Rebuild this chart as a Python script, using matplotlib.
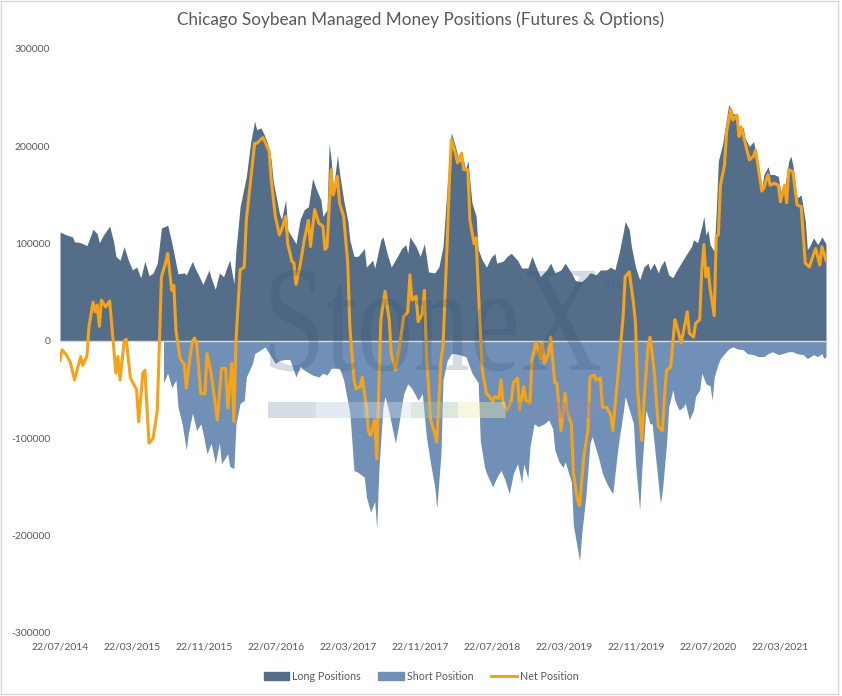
import numpy as np
import pandas as pd
import matplotlib
matplotlib.use("Agg")
import matplotlib.pyplot as plt
from matplotlib.patches import Rectangle, PathPatch
from matplotlib.lines import Line2D
from matplotlib.textpath import TextPath
from matplotlib.font_manager import FontProperties
from matplotlib.transforms import Affine2D, IdentityTransform
from matplotlib.ticker import FuncFormatter

plt.rcParams["font.family"] = ["Lato", "DejaVu Sans"]

# weekly COT data, x = weeks since 22/07/2014, values in contracts
start = pd.Timestamp("2014-07-22")
last_week = 370

long_weeks = [0, 3, 6, 7, 10, 13, 16, 18, 19, 21, 24, 26, 27, 29, 31, 33, 35, 37, 39, 41, 43, 45, 47, 49,
              52, 54, 57, 60, 61, 64, 65, 68, 69, 72, 73, 75, 77, 79, 81, 82, 84, 85, 87, 90, 92, 94, 95,
              97, 98, 100, 102, 103, 106, 107, 109, 110, 112, 114, 116, 118, 120, 122, 124, 126, 127, 129,
              130, 131, 132, 134, 135, 137, 139, 140, 142, 144, 147, 148, 151, 152, 155, 156, 158, 160, 163,
              165, 167, 168, 169, 172, 174, 176, 178, 181, 183, 185, 187, 189, 191, 193, 194, 196, 197, 199,
              201, 202, 204, 206, 208, 210, 211, 214, 216, 218, 221, 223, 226, 228, 230, 232, 235, 237, 239,
              242, 244, 247, 249, 252, 254, 256, 259, 261, 264, 266, 268, 270, 272, 273, 275, 276, 278, 280,
              282, 284, 285, 287, 289, 290, 292, 294, 296, 298, 300, 302, 305, 306, 308, 310, 311, 312, 313,
              314, 316, 317, 318, 320, 322, 323, 325, 327, 328, 330, 331, 333, 335, 337, 339, 340, 342, 343,
              345, 347, 348, 350, 352, 353, 354, 356, 358, 360, 361, 362, 364, 366, 368, 370]
long_vals = [112000, 109000, 107000, 102000, 101000, 98000, 115000, 110000, 101000, 109000, 118000, 101000,
             87000, 83000, 97000, 83000, 73000, 76000, 65000, 82000, 67000, 70000, 80000, 116000, 119000,
             101000, 69000, 70000, 68000, 82000, 76000, 63000, 58000, 73000, 65000, 53000, 70000, 66000,
             78000, 83000, 59000, 94000, 138000, 169000, 203000, 226000, 217000, 219000, 215000, 205000,
             186000, 164000, 131000, 125000, 145000, 114000, 107000, 100000, 125000, 135000, 138000, 167000,
             155000, 145000, 128000, 135000, 203000, 186000, 155000, 191000, 173000, 145000, 124000, 104000,
             87000, 87000, 95000, 76000, 83000, 75000, 104000, 107000, 90000, 76000, 87000, 95000, 99000,
             90000, 107000, 97000, 87000, 100000, 71000, 70000, 76000, 97000, 159000, 214000, 200000, 183000,
             193000, 176000, 186000, 142000, 128000, 94000, 83000, 76000, 85000, 90000, 80000, 82000, 87000,
             90000, 83000, 75000, 75000, 87000, 76000, 66000, 73000, 80000, 70000, 73000, 80000, 70000,
             62000, 61000, 65000, 70000, 68000, 73000, 73000, 76000, 73000, 90000, 111000, 123000, 114000,
             97000, 76000, 63000, 76000, 80000, 73000, 80000, 70000, 76000, 83000, 68000, 65000, 73000,
             80000, 87000, 97000, 104000, 101000, 118000, 128000, 109000, 114000, 99000, 92000, 135000,
             185000, 202000, 229000, 243000, 234000, 232000, 219000, 219000, 208000, 200000, 205000, 185000,
             157000, 171000, 179000, 171000, 171000, 169000, 154000, 157000, 185000, 190000, 181000, 147000,
             150000, 123000, 94000, 97000, 106000, 99000, 107000, 100000]

short_weeks = [50, 52, 54, 56, 57, 59, 61, 62, 64, 66, 68, 69, 71, 73, 75, 77, 78, 81, 82, 84, 85, 87, 89, 90,
               93, 94, 97, 99, 102, 104, 106, 109, 111, 114, 116, 118, 122, 125, 127, 129, 131, 135, 137,
               140, 142, 144, 147, 148, 150, 152, 153, 154, 156, 157, 159, 162, 164, 166, 168, 170, 173, 175,
               177, 179, 181, 182, 184, 185, 187, 189, 191, 196, 199, 202, 203, 205, 206, 209, 211, 213, 215,
               217, 219, 221, 223, 224, 226, 227, 229, 231, 234, 236, 238, 239, 241, 243, 244, 247, 248, 251,
               252, 254, 256, 257, 259, 260, 262, 264, 265, 267, 269, 270, 272, 273, 275, 277, 278, 280, 281,
               283, 285, 286, 288, 290, 291, 293, 294, 296, 297, 299, 301, 302, 304, 306, 307, 309, 310, 312,
               314, 315, 316, 318, 319, 321, 323, 325, 327, 330, 332, 335, 337, 340, 342, 344, 347, 349, 352,
               354, 356, 359, 361, 364, 366, 368, 369, 370]
short_vals = [-43000, -33000, -48000, -40000, -68000, -85000, -112000, -95000, -74000, -92000, -85000, -94000,
              -116000, -105000, -126000, -105000, -126000, -116000, -129000, -131000, -85000, -64000, -61000,
              -37000, -23000, -13000, -9000, -6000, -16000, -23000, -20000, -19000, -19000, -37000, -26000,
              -30000, -35000, -37000, -33000, -35000, -28000, -28000, -40000, -74000, -133000, -135000,
              -140000, -160000, -176000, -165000, -193000, -133000, -68000, -57000, -74000, -105000, -81000,
              -54000, -44000, -49000, -61000, -54000, -99000, -126000, -150000, -172000, -116000, -40000,
              -20000, -13000, -13000, -16000, -33000, -43000, -102000, -129000, -136000, -150000, -140000,
              -133000, -143000, -157000, -136000, -126000, -146000, -126000, -141000, -109000, -85000, -88000,
              -85000, -81000, -90000, -112000, -124000, -130000, -124000, -145000, -190000, -226000, -198000,
              -160000, -105000, -98000, -112000, -119000, -136000, -146000, -150000, -157000, -119000,
              -102000, -74000, -57000, -71000, -85000, -126000, -174000, -133000, -71000, -85000, -85000,
              -126000, -167000, -153000, -105000, -68000, -50000, -61000, -71000, -68000, -64000, -81000,
              -71000, -57000, -50000, -33000, -44000, -46000, -61000, -37000, -23000, -18000, -13000, -8000,
              -6000, -8000, -9000, -13000, -14000, -16000, -16000, -13000, -11000, -14000, -13000, -11000,
              -11000, -13000, -14000, -18000, -14000, -16000, -13000, -18000, -16000]

net_weeks = [0, 1, 3, 5, 7, 10, 11, 13, 14, 16, 17, 18, 19, 20, 22, 24, 27, 28, 29, 31, 32, 34, 35, 37, 38,
             40, 41, 43, 45, 47, 49, 51, 52, 54, 55, 56, 58, 60, 61, 63, 64, 65, 66, 68, 70, 71, 73, 76, 78,
             80, 81, 83, 84, 85, 87, 89, 90, 92, 94, 95, 96, 98, 99, 101, 102, 104, 106, 107, 109, 110, 112,
             113, 114, 116, 118, 120, 121, 123, 125, 127, 128, 129, 131, 132, 134, 135, 137, 139, 140, 142,
             143, 145, 146, 148, 149, 150, 152, 153, 154, 155, 157, 159, 160, 162, 164, 166, 168, 169, 170,
             172, 173, 175, 176, 177, 179, 181, 182, 184, 185, 187, 188, 189, 191, 192, 194, 195, 197, 198,
             200, 201, 202, 204, 206, 207, 209, 210, 212, 213, 214, 216, 218, 219, 221, 222, 224, 225, 227,
             228, 230, 232, 233, 234, 236, 237, 239, 240, 242, 244, 245, 247, 248, 250, 251, 253, 255, 256,
             258, 259, 261, 262, 264, 266, 267, 269, 270, 272, 273, 275, 277, 278, 279, 281, 282, 284, 285,
             287, 289, 291, 292, 293, 295, 297, 298, 300, 301, 303, 304, 306, 307, 309, 310, 311, 312, 313,
             314, 316, 317, 318, 319, 321, 322, 324, 325, 327, 328, 329, 331, 333, 335, 336, 339, 340, 342,
             343, 345, 347, 348, 350, 351, 352, 354, 356, 358, 359, 360, 362, 363, 365, 367, 368, 370]
net_vals = [-20000, -9000, -14000, -22000, -40000, -16000, -25000, -16000, 15000, 40000, 30000, 37000, 15000,
            42000, 35000, 41000, -33000, -16000, -40000, 0, 2000, -38000, -42000, -50000, -83000, -33000,
            -30000, -105000, -100000, -71000, 66000, 80000, 90000, 52000, 57000, 11000, -18000, -24000,
            -48000, -13000, 0, 3000, -2000, -54000, -54000, -13000, -33000, -81000, -28000, -28000, -69000,
            -23000, -83000, 0, 73000, 76000, 124000, 164000, 203000, 203000, 205000, 209000, 205000, 195000,
            166000, 128000, 109000, 114000, 128000, 100000, 82000, 80000, 58000, 78000, 104000, 124000,
            97000, 135000, 121000, 118000, 94000, 97000, 176000, 150000, 169000, 142000, 128000, 80000,
            15000, -40000, -49000, -47000, -37000, -68000, -93000, -97000, -81000, -121000, -47000, 22000,
            51000, 22000, -13000, -30000, -6000, 25000, 30000, 68000, 42000, 46000, 20000, 28000, 52000,
            -13000, -81000, -95000, -104000, -20000, -6000, 100000, 160000, 207000, 193000, 183000, 193000,
            176000, 176000, 124000, 100000, 106000, 56000, -30000, -54000, -56000, -62000, -57000, -59000,
            -40000, -64000, -71000, -61000, -43000, -38000, -71000, -47000, -61000, -64000, -19000, -1000,
            -18000, -2000, -23000, -13000, 4000, -43000, -43000, -92000, -54000, -73000, -85000, -136000,
            -164000, -169000, -119000, -92000, -37000, -35000, -40000, -38000, -68000, -68000, -76000,
            -92000, -47000, -23000, 25000, 66000, 71000, 39000, 18000, -50000, -102000, -64000, -6000,
            4000, -30000, -88000, -92000, -57000, -30000, -27000, 22000, 15000, -2000, 8000, 30000, 8000,
            4000, 18000, 22000, 73000, 99000, 66000, 75000, 54000, 26000, 107000, 109000, 160000, 181000,
            215000, 238000, 227000, 232000, 210000, 220000, 203000, 186000, 190000, 196000, 154000, 157000,
            171000, 160000, 162000, 160000, 143000, 160000, 142000, 176000, 174000, 140000, 138000, 109000,
            80000, 76000, 83000, 95000, 78000, 97000, 83000]

y_ticks = [-300000, -200000, -100000, 0, 100000, 200000, 300000]
tick_months = [8 * k for k in range(11)]

LONG_C = "#546E89"
SHORT_C = "#7190B7"
NET_C = "#F5A31A"
TXT = "#595959"


def to_dates(weeks):
    return [(start + pd.Timedelta(days=7 * w)).to_pydatetime() for w in weeks]


W, H = 842, 696
fig = plt.figure(figsize=(W / 100, H / 100), dpi=100)
ax = fig.add_axes([60 / W, 1 - 633 / H, 766 / W, 584 / H])

ax.fill_between(to_dates(long_weeks), 0, long_vals, color=LONG_C, lw=0, zorder=1)
ax.fill_between(to_dates(short_weeks), short_vals, 0, color=SHORT_C, lw=0, zorder=1)
ax.axhline(0, color="#D9D9D9", lw=1.0, zorder=3)
ax.plot(to_dates(net_weeks), net_vals, color=NET_C, lw=2.2, zorder=4, solid_joinstyle="round")

ax.set_xlim(to_dates([0])[0], to_dates([last_week])[0])
ax.set_ylim(-300000, 300000)
ax.set_yticks(y_ticks)
ax.yaxis.set_major_formatter(FuncFormatter(lambda v, p: "%d" % v))
tick_dates = [(start + pd.DateOffset(months=m)).to_pydatetime() for m in tick_months]
ax.set_xticks(tick_dates)
ax.set_xticklabels([d.strftime("%d/%m/%Y") for d in tick_dates])
ax.tick_params(axis="both", length=0, labelsize=7.5, colors=TXT)
ax.tick_params(axis="y", pad=7)
ax.tick_params(axis="x", pad=7)
for s in ax.spines.values():
    s.set_visible(False)

# faint StoneX watermark
tp = TextPath((0, 0), "StoneX", size=1, prop=FontProperties(family="Liberation Serif"))
bb = tp.get_extents()
sx = 330 / bb.width
sy = 100 / 0.66
wm = PathPatch(tp, transform=Affine2D().translate(-bb.x0, 0).scale(sx, sy).translate(270, H - 370)
               + IdentityTransform(), color="#2E4D73", alpha=0.2, lw=0, zorder=5)
fig.patches.append(wm)
fig.text(613 / W, 1 - 285 / H, "TM", fontsize=8, color="#2E4D73", alpha=0.25, ha="center", va="center")
bar_cols = ["#9DABBF", "#B9CBDF", "#CFE0EE", "#A9C6AC", "#F1EDB2", "#7D8FAE", "#8C86B6"]
bx = 268
for c in bar_cols:
    fig.patches.append(Rectangle((bx / W, 1 - 418 / H), 47.5 / W, 16 / H, transform=fig.transFigure,
                                 color=c, alpha=0.4, lw=0, zorder=5))
    bx += 47.5

fig.text(0.5, 1 - 20 / H, "Chicago Soybean Managed Money Positions (Futures & Options)",
         ha="center", va="center", fontsize=12.3, color=TXT)

handles = [Rectangle((0, 0), 1, 1, color=LONG_C), Rectangle((0, 0), 1, 1, color=SHORT_C),
           Line2D([], [], color=NET_C, lw=2.2)]
fig.legend(handles, ["Long Positions", "Short Position", "Net Position"], loc="center",
           bbox_to_anchor=(0.5, 1 - 676 / H), ncol=3, frameon=False, fontsize=7.7,
           labelcolor=TXT, handlelength=2.4, handleheight=0.7, handletextpad=0.3, columnspacing=1.6)

fig.patches.append(Rectangle((0.5 / W, 2.5 / H), (W - 4.5) / W, (H - 3) / H, transform=fig.transFigure,
                             fill=False, edgecolor="#D9D9D9", lw=1))

fig.savefig("out.png", dpi=100)
